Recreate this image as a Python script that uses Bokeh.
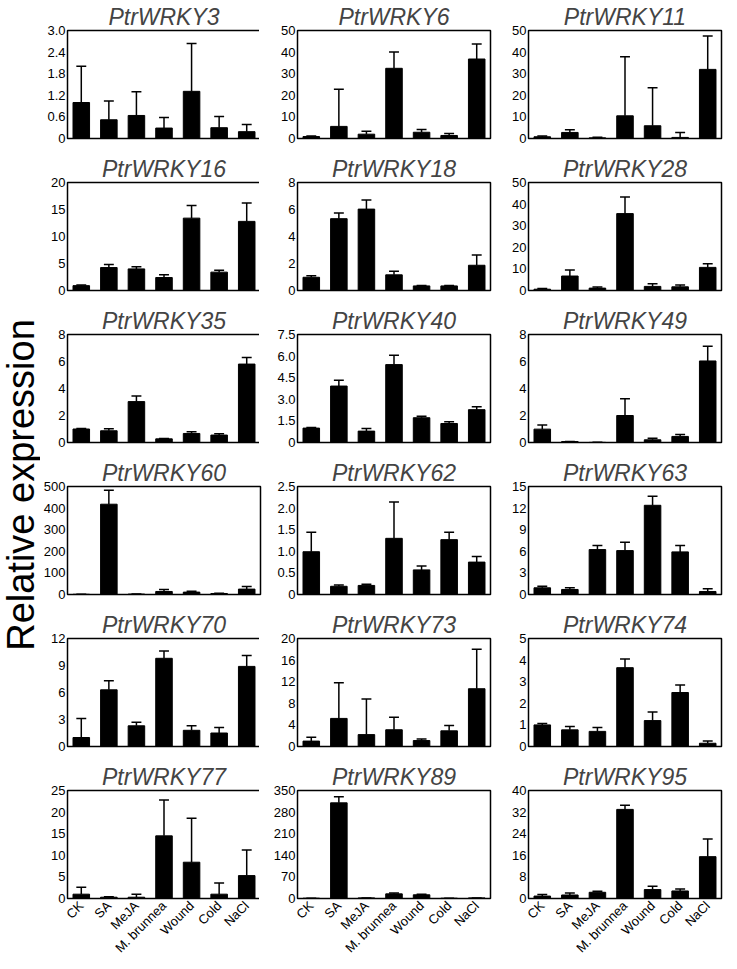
import math
from bokeh.plotting import figure
from bokeh.layouts import gridplot, row
from bokeh.models import Range1d, FixedTicker
from bokeh.embed import file_html
from bokeh.resources import INLINE
from bokeh.core.properties import value

treatments = ["CK", "SA", "MeJA", "M. brunnea", "Wound", "Cold", "NaCl"]

wrky3_mean = [1.00, 0.52, 0.64, 0.29, 1.31, 0.30, 0.19]
wrky3_sd = [1.01, 0.52, 0.66, 0.29, 1.33, 0.31, 0.20]
wrky3_ticks = ["0", "0.6", "1.2", "1.8", "2.4", "3.0"]

wrky6_mean = [0.9, 5.6, 2.0, 32.5, 2.9, 1.4, 36.8]
wrky6_sd = [0.2, 17.2, 1.4, 7.5, 1.3, 0.9, 6.9]
wrky6_ticks = ["0", "10", "20", "30", "40", "50"]

wrky11_mean = [0.8, 2.8, 0.3, 10.5, 5.9, 0.5, 32.0]
wrky11_sd = [0.3, 1.2, 0.3, 27.4, 17.6, 2.3, 15.4]
wrky11_ticks = ["0", "10", "20", "30", "40", "50"]

wrky16_mean = [0.9, 4.25, 4.0, 2.4, 13.4, 3.4, 12.8]
wrky16_sd = [0.1, 0.55, 0.4, 0.5, 2.35, 0.35, 3.4]
wrky16_ticks = ["0", "5", "10", "15", "20"]

wrky18_mean = [0.98, 5.32, 6.03, 1.16, 0.34, 0.34, 1.87]
wrky18_sd = [0.12, 0.42, 0.67, 0.27, 0.03, 0.03, 0.76]
wrky18_ticks = ["0", "2", "4", "6", "8"]

wrky28_mean = [0.6, 6.7, 1.1, 35.6, 1.9, 1.7, 10.7]
wrky28_sd = [0.3, 2.8, 0.5, 7.7, 1.2, 0.8, 1.7]
wrky28_ticks = ["0", "10", "20", "30", "40", "50"]

wrky35_mean = [1.0, 0.87, 3.03, 0.27, 0.67, 0.55, 5.81]
wrky35_sd = [0.04, 0.15, 0.42, 0.03, 0.13, 0.10, 0.48]
wrky35_ticks = ["0", "2", "4", "6", "8"]

wrky40_mean = [1.0, 3.92, 0.79, 5.41, 1.72, 1.32, 2.28]
wrky40_sd = [0.04, 0.40, 0.19, 0.65, 0.11, 0.12, 0.20]
wrky40_ticks = ["0", "1.5", "3.0", "4.5", "6.0", "7.5"]

wrky49_mean = [0.99, 0.07, 0.01, 2.0, 0.20, 0.45, 6.04]
wrky49_sd = [0.30, 0.01, 0.0, 1.24, 0.12, 0.14, 1.09]
wrky49_ticks = ["0", "2", "4", "6", "8"]

wrky60_mean = [1, 418, 2, 14, 11, 4.7, 25]
wrky60_sd = [0, 65, 0, 9, 4.5, 1.3, 12]
wrky60_ticks = ["0", "100", "200", "300", "400", "500"]

wrky62_mean = [0.99, 0.19, 0.21, 1.30, 0.57, 1.27, 0.75]
wrky62_sd = [0.45, 0.03, 0.03, 0.84, 0.09, 0.17, 0.13]
wrky62_ticks = ["0", "0.5", "1.0", "1.5", "2.0", "2.5"]

wrky63_mean = [0.93, 0.70, 6.24, 6.10, 12.39, 5.92, 0.42]
wrky63_sd = [0.23, 0.23, 0.56, 1.17, 1.26, 0.88, 0.38]
wrky63_ticks = ["0", "3", "6", "9", "12", "15"]

wrky70_mean = [1.0, 6.3, 2.3, 9.8, 1.8, 1.5, 8.9]
wrky70_sd = [2.1, 1.0, 0.4, 0.8, 0.5, 0.6, 1.2]
wrky70_ticks = ["0", "3", "6", "9", "12"]

wrky73_mean = [1.0, 5.2, 2.2, 3.1, 1.1, 2.9, 10.7]
wrky73_sd = [0.7, 6.6, 6.6, 2.3, 0.3, 1.0, 7.3]
wrky73_ticks = ["0", "4", "8", "12", "16", "20"]

wrky74_mean = [1.0, 0.77, 0.70, 3.65, 1.2, 2.5, 0.15]
wrky74_sd = [0.07, 0.16, 0.18, 0.40, 0.4, 0.35, 0.10]
wrky74_ticks = ["0", "1", "2", "3", "4", "5"]

wrky77_mean = [1.0, 0.3, 0.3, 14.5, 8.4, 1.0, 5.3]
wrky77_sd = [1.6, 0.1, 0.7, 8.3, 10.2, 2.6, 5.9]
wrky77_ticks = ["0", "5", "10", "15", "20", "25"]

wrky89_mean = [1, 310, 2, 15, 12, 1, 2]
wrky89_sd = [0, 20, 0, 3, 2, 0, 0]
wrky89_ticks = ["0", "70", "140", "210", "280", "350"]

wrky95_mean = [0.9, 1.3, 2.3, 33.0, 3.3, 2.8, 15.5]
wrky95_sd = [0.6, 0.7, 0.4, 1.5, 1.2, 0.7, 6.5]
wrky95_ticks = ["0", "8", "16", "24", "32", "40"]

panels = [
    ("PtrWRKY3", wrky3_mean, wrky3_sd, wrky3_ticks),
    ("PtrWRKY6", wrky6_mean, wrky6_sd, wrky6_ticks),
    ("PtrWRKY11", wrky11_mean, wrky11_sd, wrky11_ticks),
    ("PtrWRKY16", wrky16_mean, wrky16_sd, wrky16_ticks),
    ("PtrWRKY18", wrky18_mean, wrky18_sd, wrky18_ticks),
    ("PtrWRKY28", wrky28_mean, wrky28_sd, wrky28_ticks),
    ("PtrWRKY35", wrky35_mean, wrky35_sd, wrky35_ticks),
    ("PtrWRKY40", wrky40_mean, wrky40_sd, wrky40_ticks),
    ("PtrWRKY49", wrky49_mean, wrky49_sd, wrky49_ticks),
    ("PtrWRKY60", wrky60_mean, wrky60_sd, wrky60_ticks),
    ("PtrWRKY62", wrky62_mean, wrky62_sd, wrky62_ticks),
    ("PtrWRKY63", wrky63_mean, wrky63_sd, wrky63_ticks),
    ("PtrWRKY70", wrky70_mean, wrky70_sd, wrky70_ticks),
    ("PtrWRKY73", wrky73_mean, wrky73_sd, wrky73_ticks),
    ("PtrWRKY74", wrky74_mean, wrky74_sd, wrky74_ticks),
    ("PtrWRKY77", wrky77_mean, wrky77_sd, wrky77_ticks),
    ("PtrWRKY89", wrky89_mean, wrky89_sd, wrky89_ticks),
    ("PtrWRKY95", wrky95_mean, wrky95_sd, wrky95_ticks),
]

FONT = "Liberation Sans"
FW, FH = 193, 108
YLAB_W = 40
LEFT = [24, 35, 36]
RIGHT = [2, 2, 6]
NROWS = 6

n = len(treatments)
xs = [k + 0.5 for k in range(n)]

figs = []
for i, (name, mean, sd, ticks) in enumerate(panels):
    r, c = divmod(i, 3)
    last = r == NROWS - 1
    tv = [float(t) for t in ticks]
    p = figure(frame_width=FW, frame_height=FH,
               x_range=Range1d(0, n), y_range=Range1d(0, tv[-1]),
               output_backend="svg", toolbar_location=None, tools="",
               min_border_left=LEFT[c], min_border_right=RIGHT[c],
               min_border_top=0, min_border_bottom=(66 if last else 14),
               title=name)
    p.title.text_font = FONT
    p.title.text_font_size = "23px"
    p.title.text_font_style = "italic"
    p.title.align = "center"
    p.title.standoff = 2
    p.xgrid.visible = False
    p.ygrid.visible = False
    p.outline_line_color = "black"
    p.outline_line_width = 1.5
    p.background_fill_color = "white"
    p.border_fill_color = "white"

    ya = p.yaxis[0]
    ya.ticker = FixedTicker(ticks=tv)
    ya.major_label_overrides = {v: s for v, s in zip(tv, ticks)}
    ya.major_tick_out = 0
    ya.major_tick_in = 0
    ya.minor_tick_out = 0
    ya.minor_tick_in = 0
    ya.axis_line_color = None
    ya.major_label_text_font = FONT
    ya.major_label_text_font_size = "13px"
    ya.major_label_text_color = "black"
    ya.major_label_standoff = 2

    xa = p.xaxis[0]
    if last:
        xa.ticker = FixedTicker(ticks=xs)
        xa.major_label_overrides = {x: t for x, t in zip(xs, treatments)}
        xa.major_label_orientation = math.pi / 4
        xa.major_tick_out = 0
        xa.major_tick_in = 0
        xa.minor_tick_out = 0
        xa.minor_tick_in = 0
        xa.axis_line_color = None
        xa.major_label_text_font = FONT
        xa.major_label_text_font_size = "13px"
        xa.major_label_text_color = "black"
        xa.major_label_standoff = 5
    else:
        xa.visible = False

    tops = [m + s for m, s in zip(mean, sd)]
    p.vbar(x=xs, top=mean, bottom=0, width=0.6, fill_color="black", line_color="black")
    p.segment(x0=xs, y0=mean, x1=xs, y1=tops, line_color="black", line_width=1.5)
    p.segment(x0=[x - 0.18 for x in xs], y0=tops, x1=[x + 0.18 for x in xs], y1=tops,
              line_color="black", line_width=1.5)
    figs.append(p)

grid = gridplot(figs, ncols=3, toolbar_location=None)

ylab = figure(width=YLAB_W, height=950, x_range=Range1d(0, 1), y_range=Range1d(0, 1),
              output_backend="svg", toolbar_location=None, tools="",
              min_border=0, outline_line_color=None)
ylab.xaxis.visible = False
ylab.yaxis.visible = False
ylab.xgrid.visible = False
ylab.ygrid.visible = False
ylab.text(x=[0.5], y=[0.49], text=["Relative expression"], angle=math.pi / 2,
          text_align="center", text_baseline="middle",
          text_font=value(FONT), text_font_size="38px", text_color="black")

layout = row(ylab, grid)
open("out.html", "w").write(file_html(layout, INLINE))
